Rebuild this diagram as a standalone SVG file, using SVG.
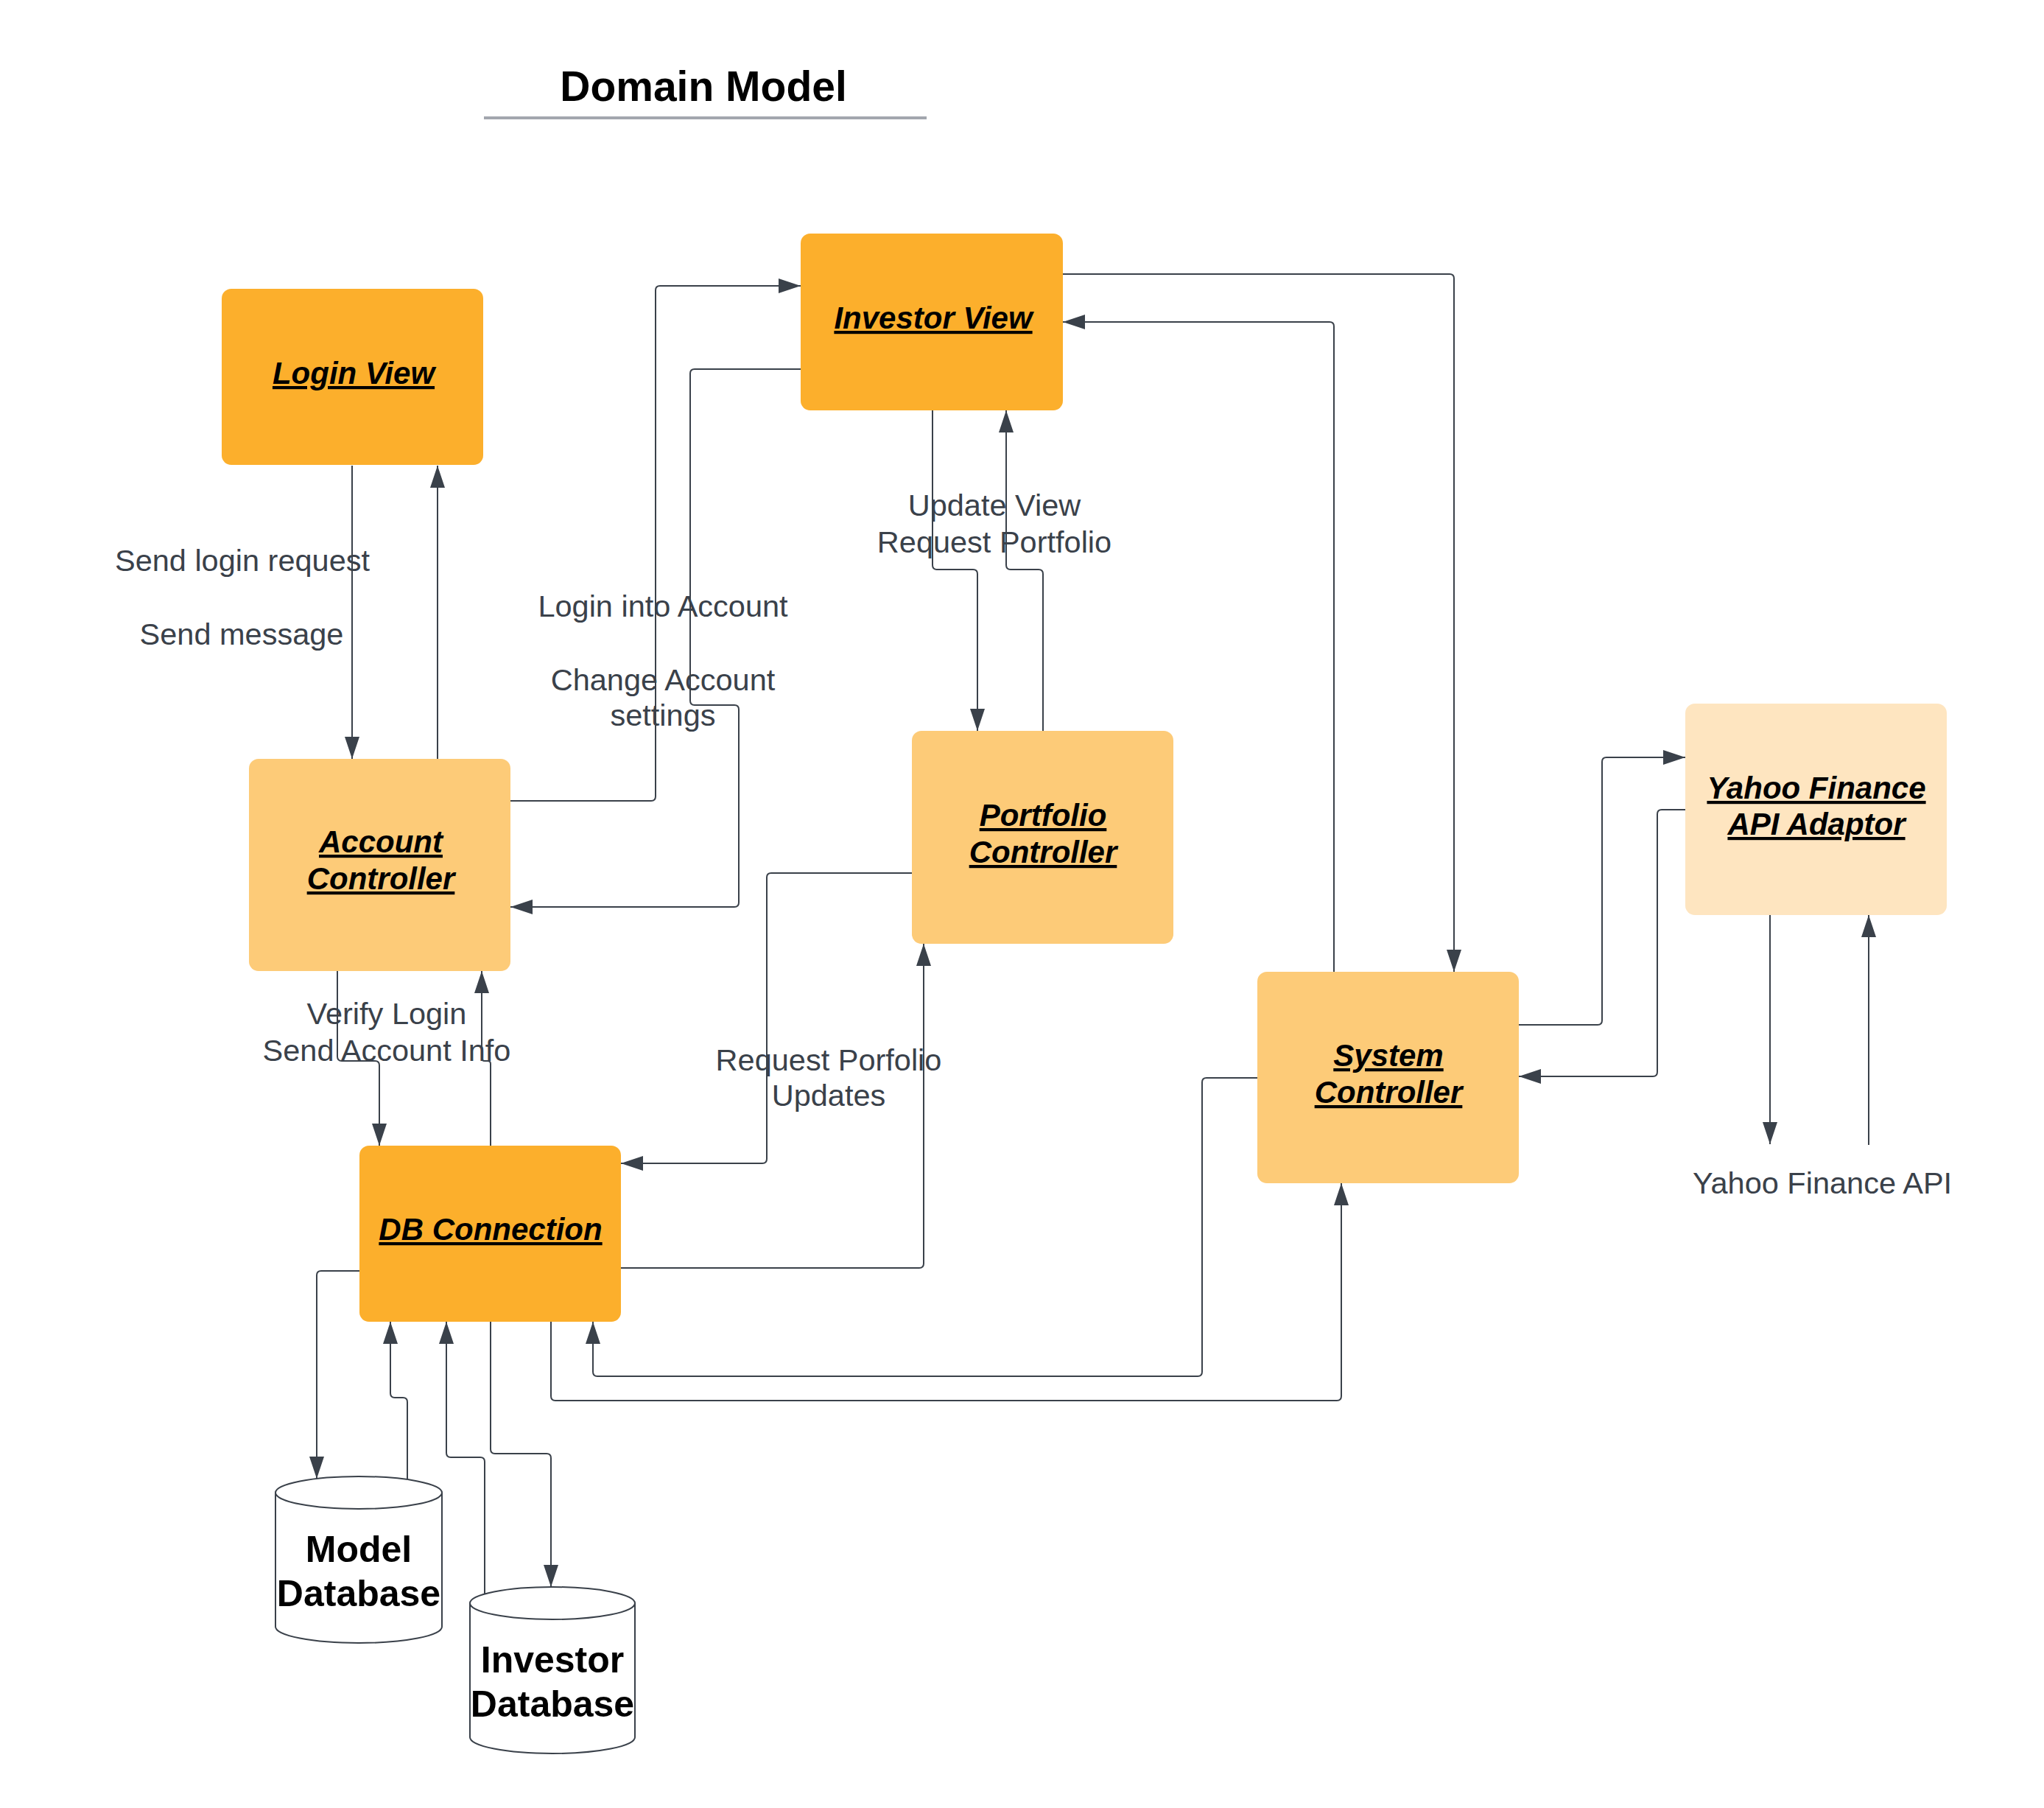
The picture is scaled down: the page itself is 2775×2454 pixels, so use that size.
<svg xmlns="http://www.w3.org/2000/svg" width="2775" height="2454" viewBox="0 0 2775 2454">
<style>
.n1{fill:#fcaf2c}
.n2{fill:#fdcb78}
.n3{fill:#fee5c0}
.nt{font-family:"Liberation Sans",Arial,sans-serif;font-size:42px;font-weight:bold;font-style:italic;text-decoration:underline;fill:#000;text-anchor:middle}
.lbl{font-family:"Liberation Sans",Arial,sans-serif;font-size:41.5px;fill:#3a414a;text-anchor:middle}
.db{fill:#fff;stroke:#3a414a;stroke-width:2}
.dbt{font-family:"Liberation Sans",Arial,sans-serif;font-size:50px;font-weight:bold;fill:#000;text-anchor:middle}
.c{fill:none;stroke:#3a414a;stroke-width:2}
.a{marker-end:url(#arrow)}
</style>
<defs>
<marker id="arrow" markerUnits="userSpaceOnUse" markerWidth="30" markerHeight="20" refX="30" refY="10" orient="auto">
<path d="M0,0 L30,10 L0,20 Z" fill="#3a414a"/>
</marker>
</defs>
<rect width="2775" height="2454" fill="#fff"/>
<g id="title">
<text x="955" y="137" font-family="'Liberation Sans',Arial,sans-serif" font-size="57" font-weight="bold" text-anchor="middle" fill="#000">Domain Model</text>
<line x1="657" y1="160" x2="1258" y2="160" stroke="#a3a6ae" stroke-width="4"/>
</g>
<g id="connectors">
<path class="c a" d="M478,632 L478,1030"/>
<path class="c a" d="M594,1030 L594,632"/>
<path class="c a" d="M693,1087 L884,1087 Q890,1087 890,1081 L890,394 Q890,388 896,388 L1087,388"/>
<path class="c a" d="M1087,501 L943,501 Q937,501 937,507 L937,951 Q937,957 943,957 L997,957 Q1003,957 1003,963 L1003,1225 Q1003,1231 997,1231 L693,1231"/>
<path class="c a" d="M1266,557 L1266,767 Q1266,773 1272,773 L1321,773 Q1327,773 1327,779 L1327,992"/>
<path class="c a" d="M1416,992 L1416,779 Q1416,773 1410,773 L1372,773 Q1366,773 1366,767 L1366,557"/>
<path class="c a" d="M1443,372 L1968,372 Q1974,372 1974,378 L1974,1319"/>
<path class="c a" d="M1811,1319 L1811,443 Q1811,437 1805,437 L1443,437"/>
<path class="c a" d="M2062,1391 L2169,1391 Q2175,1391 2175,1385 L2175,1034 Q2175,1028 2181,1028 L2288,1028"/>
<path class="c a" d="M2288,1099 L2256,1099 Q2250,1099 2250,1105 L2250,1455 Q2250,1461 2244,1461 L2062,1461"/>
<path class="c a" d="M2403,1242 L2403,1553"/>
<path class="c a" d="M2537,1554 L2537,1242"/>
<path class="c a" d="M458,1318 L458,1434 Q458,1440 464,1440 L509,1440 Q515,1440 515,1446 L515,1555"/>
<path class="c a" d="M666,1555 L666,1444 Q666,1440 662,1440 L658,1440 Q654,1440 654,1436 L654,1318"/>
<path class="c a" d="M1238,1185 L1047,1185 Q1041,1185 1041,1191 L1041,1573 Q1041,1579 1035,1579 L843,1579"/>
<path class="c a" d="M843,1721 L1248,1721 Q1254,1721 1254,1715 L1254,1281"/>
<path class="c a" d="M488,1725 L436,1725 Q430,1725 430,1731 L430,2007"/>
<path class="c a" d="M553,2008 L553,1903 Q553,1897 547,1897 L536,1897 Q530,1897 530,1891 L530,1794"/>
<path class="c a" d="M658,2163 L658,1984 Q658,1978 652,1978 L612,1978 Q606,1978 606,1972 L606,1794"/>
<path class="c a" d="M666,1794 L666,1967 Q666,1973 672,1973 L742,1973 Q748,1973 748,1979 L748,2154"/>
<path class="c a" d="M1707,1463 L1638,1463 Q1632,1463 1632,1469 L1632,1862 Q1632,1868 1626,1868 L811,1868 Q805,1868 805,1862 L805,1794"/>
<path class="c a" d="M748,1794 L748,1895 Q748,1901 754,1901 L1815,1901 Q1821,1901 1821,1895 L1821,1606"/>
<text class="lbl" x="329" y="775">Send login request</text>
<text class="lbl" x="328" y="875">Send message</text>
<text class="lbl" x="900" y="837">Login into Account</text>
<text class="lbl" x="900" y="937">Change Account</text>
<text class="lbl" x="900" y="985">settings</text>
<text class="lbl" x="1350" y="700">Update View</text>
<text class="lbl" x="1350" y="750">Request Portfolio</text>
<text class="lbl" x="525" y="1390">Verify Login</text>
<text class="lbl" x="525" y="1440">Send Account Info</text>
<text class="lbl" x="1125" y="1453">Request Porfolio</text>
<text class="lbl" x="1125" y="1501">Updates</text>
<text class="lbl" x="2474" y="1620">Yahoo Finance API</text>
</g>
<g id="login-view">
<rect class="n1" x="301" y="392" width="355" height="239" rx="13"/>
<text class="nt" x="480" y="521">Login View</text>
</g>
<g id="investor-view">
<rect class="n1" x="1087" y="317" width="356" height="240" rx="13"/>
<text class="nt" x="1267" y="446">Investor View</text>
</g>
<g id="account-controller">
<rect class="n2" x="338" y="1030" width="355" height="288" rx="13"/>
<text class="nt" x="517" y="1157">Account</text>
<text class="nt" x="517" y="1207">Controller</text>
</g>
<g id="portfolio-controller">
<rect class="n2" x="1238" y="992" width="355" height="289" rx="13"/>
<text class="nt" x="1416" y="1121">Portfolio</text>
<text class="nt" x="1416" y="1171">Controller</text>
</g>
<g id="system-controller">
<rect class="n2" x="1707" y="1319" width="355" height="287" rx="13"/>
<text class="nt" x="1885" y="1447">System</text>
<text class="nt" x="1885" y="1497">Controller</text>
</g>
<g id="yahoo-adaptor">
<rect class="n3" x="2288" y="955" width="355" height="287" rx="13"/>
<text class="nt" x="2466" y="1084">Yahoo Finance</text>
<text class="nt" x="2466" y="1133">API Adaptor</text>
</g>
<g id="db-connection">
<rect class="n1" x="488" y="1555" width="355" height="239" rx="13"/>
<text class="nt" x="666" y="1683">DB Connection</text>
</g>
<g id="model-database">
<path class="db" d="M374,2026 L374,2208 A113,22 0 0 0 600,2208 L600,2026 A113,22 0 0 0 374,2026 Z"/>
<path class="db" fill="none" d="M374,2026 A113,22 0 0 0 600,2026"/>
<text class="dbt" x="487" y="2120">Model</text>
<text class="dbt" x="487" y="2180">Database</text>
</g>
<g id="investor-database">
<path class="db" d="M638,2176 L638,2358 A112,22 0 0 0 862,2358 L862,2176 A112,22 0 0 0 638,2176 Z"/>
<path class="db" fill="none" d="M638,2176 A112,22 0 0 0 862,2176"/>
<text class="dbt" x="750" y="2270">Investor</text>
<text class="dbt" x="750" y="2330">Database</text>
</g>
</svg>
